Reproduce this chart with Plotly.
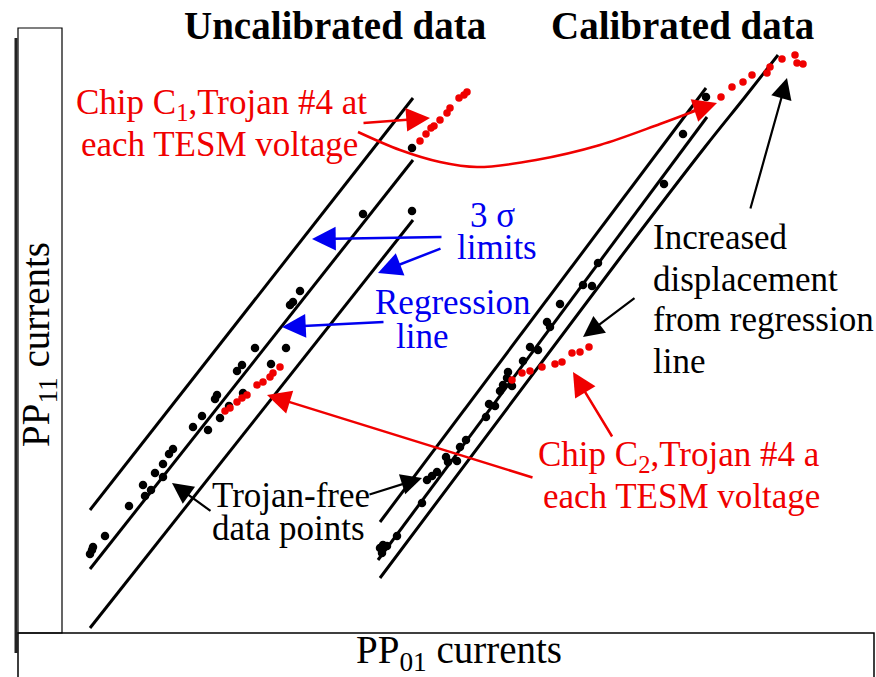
import plotly.graph_objects as go

# ---------------- data (coordinates in the chart's drawing units) ----------------
# Uncalibrated data: Trojan-free points
unc_free_x = [90, 92, 93, 105, 129, 143, 145, 151, 155, 163, 163, 169, 173, 193, 202, 208,
              215, 217, 220, 229, 243, 237, 242, 255, 271, 286, 290, 293, 300, 363, 412, 412]
unc_free_y = [554, 550, 547, 536, 506, 485, 496, 490, 473, 464, 477, 454, 449, 427, 416, 430,
              399, 395, 418, 406, 393, 371, 365, 348, 364, 348, 305, 302, 291, 214, 211, 148]
# Uncalibrated data: chip C2 Trojan #4 (lower) and chip C1 Trojan #4 (upper)
unc_c2_x = [225, 230, 237, 242, 247, 257, 263, 270, 273, 280]
unc_c2_y = [411, 408, 402, 398, 395, 385, 382, 377, 373, 367]
unc_c1_x = [420, 426, 431, 434, 440, 447, 450, 459, 464, 467]
unc_c1_y = [141, 134, 128, 126, 120, 113, 108, 98, 95, 92]

# Calibrated data: Trojan-free points
cal_free_x = [380, 382, 383, 387, 397, 422, 427, 432, 437, 446, 448, 457, 460, 466, 486, 489,
              495, 500, 503, 507, 508, 512, 523, 530, 538, 547, 550, 560, 583, 592, 598,
              664, 683, 706]
cal_free_y = [548, 553, 545, 546, 536, 503, 480, 476, 472, 457, 462, 461, 447, 440, 417, 404,
              406, 391, 385, 378, 372, 386, 361, 347, 350, 322, 327, 304, 285, 286, 263,
              184, 134, 97]
# Calibrated data: chip C2 Trojan #4 and chip C1 Trojan #4
cal_c2_x = [512, 522, 530, 542, 555, 562, 572, 580, 589]
cal_c2_y = [380, 373, 371, 367, 364, 362, 353, 352, 347]
cal_c1_x = [721, 732, 743, 752, 767, 770, 782, 795, 797, 803]
cal_c1_y = [97, 87, 82, 75, 73, 67, 59, 55, 63, 64]

# Regression line and 3-sigma limits
unc_upper_x, unc_upper_y = [90, 413], [510, 98]
unc_reg_x, unc_reg_y = [90, 413], [569, 160]
unc_lower_x, unc_lower_y = [90, 413], [628, 220]
cal_upper_x, cal_upper_y = [380, 706], [522, 88]
cal_reg_x, cal_reg_y = [378, 707], [560, 117]
cal_lower_x = [380, 620, 705, 745, 778]
cal_lower_y = [578, 258, 147, 97, 55]

# red curved connector (C1 uncalibrated -> C1 calibrated)
curve_x = [358, 400, 440, 477, 536, 600, 660, 700]
curve_y = [132, 150, 162, 167, 160, 145, 124, 109]

RED = "#f00000"
BLUE = "#0000f0"
FONT = "Liberation Serif, Times New Roman, serif"

fig = go.Figure()

def line(x, y, shape="linear"):
    fig.add_trace(go.Scatter(x=x, y=y, mode="lines", line=dict(color="black", width=3, shape=shape),
                             hoverinfo="skip", showlegend=False))

for lx, ly in [(unc_upper_x, unc_upper_y), (unc_reg_x, unc_reg_y), (unc_lower_x, unc_lower_y),
               (cal_upper_x, cal_upper_y), (cal_reg_x, cal_reg_y)]:
    line(lx, ly)
line(cal_lower_x, cal_lower_y, shape="spline")

fig.add_trace(go.Scatter(x=curve_x, y=curve_y, mode="lines", line=dict(color=RED, width=2.5, shape="spline"),
                         hoverinfo="skip", showlegend=False))

def pts(x, y, color, size):
    fig.add_trace(go.Scatter(x=x, y=y, mode="markers", marker=dict(color=color, size=size, line=dict(width=0)),
                             showlegend=False))

pts(unc_free_x, unc_free_y, "black", 8.5)
pts(cal_free_x, cal_free_y, "black", 8.5)
pts(unc_c2_x, unc_c2_y, RED, 7.5)
pts(unc_c1_x, unc_c1_y, RED, 7.5)
pts(cal_c2_x, cal_c2_y, RED, 7.5)
pts(cal_c1_x, cal_c1_y, RED, 7.5)

# ---------------- frames ----------------
shapes = [
    dict(type="rect", x0=18, x1=62, y0=28, y1=633, line=dict(color="black", width=1.2), xref="x", yref="y"),
    dict(type="line", x0=16, x1=16, y0=38, y1=653, line=dict(color="#222", width=3), xref="x", yref="y"),
    dict(type="rect", x0=18, x1=874, y0=633, y1=690, line=dict(color="black", width=1.5), xref="x", yref="y"),
]

# ---------------- arrows ----------------
arrows = [
    # (tail_x, tail_y, tip_x, tip_y, color, width)
    (362, 123, 430, 118, RED, 2.5),
    (690, 112, 717, 103, RED, 2.5),
    (534, 478, 267, 395, RED, 2.5),
    (613, 438, 573, 372, RED, 2.5),
    (443, 237, 312, 239, BLUE, 2.5),
    (442, 248, 378, 273, BLUE, 2.5),
    (385, 322, 282, 327, BLUE, 2.5),
    (212, 512, 172, 483, "black", 2.2),
    (368, 495, 422, 478, "black", 2.2),
    (750, 210, 787, 78, "black", 2.2),
    (636, 297, 583, 337, "black", 2.2),
]
annotations = []
for tx, ty, hx, hy, c, w in arrows:
    annotations.append(dict(x=hx, y=hy, ax=tx, ay=ty, xref="x", yref="y", axref="x", ayref="y",
                            text="", showarrow=True, arrowhead=2, arrowsize=1.9, arrowwidth=w,
                            arrowcolor=c, standoff=0, startstandoff=0))

# ---------------- texts ----------------
def txt(s, x, y, color="black", size=35, anchor="left", bold=False, angle=0):
    annotations.append(dict(x=x, y=y, xref="x", yref="y", text=("<b>%s</b>" % s) if bold else s,
                            showarrow=False, xanchor=anchor, yanchor="middle", textangle=angle,
                            font=dict(family=FONT, size=size, color=color)))

txt("Uncalibrated data", 335, 25, size=39, anchor="center", bold=True)
txt("Calibrated data", 682, 25, size=39, anchor="center", bold=True)
txt("Chip C<sub>1</sub>,Trojan #4 at", 74, 104, color=RED)
txt("each TESM voltage", 79, 144, color=RED)
txt("3 σ", 468, 215, color=BLUE)
txt("limits", 455, 247, color=BLUE)
txt("Regression", 373, 302, color=BLUE)
txt("line", 394, 336, color=BLUE)
txt("Increased", 651, 237)
txt("displacement", 651, 279)
txt("from regression", 651, 319)
txt("line", 651, 361)
txt("Trojan-free", 210, 495)
txt("data points", 210, 528)
txt("Chip C<sub>2</sub>,Trojan #4 a", 536, 456, color=RED)
txt("each TESM voltage", 541, 496, color=RED)
txt("PP<sub>01</sub> currents", 459, 652, size=39, anchor="center")
txt("PP<sub>11</sub> currents", 38, 345, size=39, anchor="center", angle=-90)

fig.update_layout(
    width=876, height=677, margin=dict(l=0, r=0, t=0, b=0),
    paper_bgcolor="white", plot_bgcolor="white",
    xaxis=dict(range=[0, 876], visible=False, fixedrange=True),
    yaxis=dict(range=[677, 0], visible=False, fixedrange=True),
    shapes=shapes, annotations=annotations, showlegend=False,
)
fig.write_html("out.html")
